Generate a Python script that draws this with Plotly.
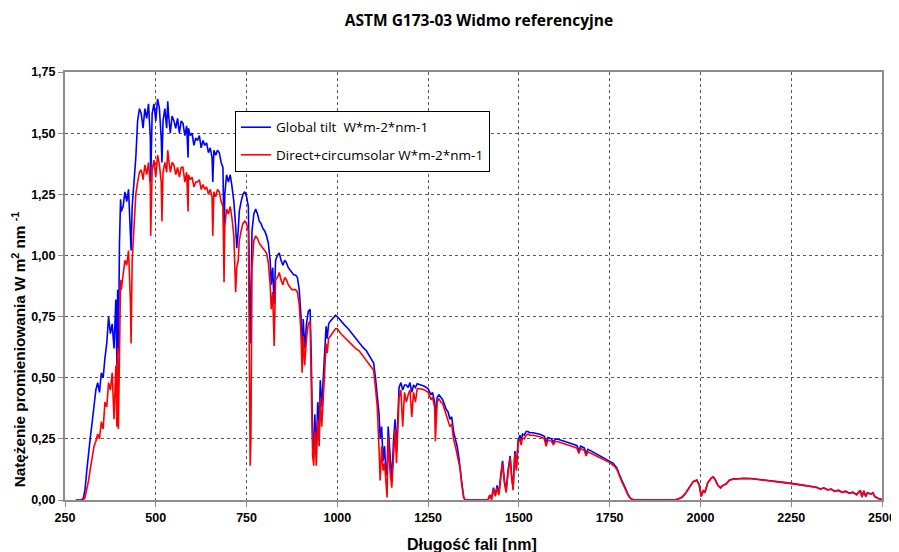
import plotly.graph_objects as go

# wavelength [nm], global tilt, direct+circumsolar
wavelength_nm = [
    280, 285, 290, 295, 300, 305, 310, 315, 320, 325, 330, 335, 340, 345, 350, 355, 360, 365, 370, 375,
    380, 385, 390, 393, 395, 397, 400, 403, 405, 410, 415, 420, 425, 430, 432, 435, 440, 445, 450, 455,
    460, 465, 470, 475, 480, 485, 486, 490, 495, 500, 505, 510, 515, 517, 520, 525, 530, 533, 535, 540,
    545, 550, 555, 560, 565, 570, 575, 580, 585, 589, 590, 595, 600, 605, 610, 615, 620, 625, 630, 635,
    640, 645, 650, 655, 657, 660, 665, 670, 675, 680, 685, 688, 690, 695, 700, 705, 710, 715, 720, 723,
    727, 730, 735, 740, 745, 750, 755, 758, 760, 762, 765, 770, 775, 780, 785, 790, 795, 800, 805, 810,
    815, 818, 822, 826, 830, 835, 840, 845, 850, 855, 860, 865, 870, 875, 880, 885, 890, 895, 900, 903,
    906, 910, 915, 920, 925, 928, 932, 935, 938, 942, 946, 950, 953, 957, 961, 965, 969, 972, 976, 980,
    985, 990, 995, 1000, 1010, 1020, 1030, 1040, 1050, 1060, 1070, 1080, 1090, 1100, 1105, 1110, 1115, 1118, 1122, 1126,
    1130, 1134, 1137, 1140, 1145, 1150, 1155, 1159, 1163, 1167, 1170, 1175, 1180, 1185, 1190, 1195, 1200, 1205, 1210, 1215,
    1220, 1230, 1240, 1250, 1258, 1262, 1268, 1270, 1275, 1280, 1285, 1290, 1295, 1300, 1305, 1310, 1315, 1320, 1325, 1330,
    1335, 1338, 1342, 1348, 1352, 1400, 1415, 1420, 1425, 1430, 1435, 1440, 1445, 1450, 1455, 1460, 1465, 1470, 1476, 1480,
    1484, 1489, 1493, 1498, 1503, 1506, 1510, 1515, 1520, 1525, 1530, 1540, 1550, 1560, 1570, 1575, 1580, 1590, 1595, 1600,
    1610, 1620, 1630, 1640, 1650, 1660, 1665, 1670, 1680, 1685, 1690, 1700, 1710, 1720, 1730, 1740, 1750, 1755, 1760, 1765,
    1770, 1775, 1780, 1785, 1790, 1795, 1800, 1805, 1810, 1820, 1900, 1930, 1940, 1950, 1960, 1970, 1980, 1990, 1997, 2002,
    2008, 2012, 2020, 2030, 2035, 2040, 2048, 2055, 2062, 2070, 2080, 2090, 2100, 2120, 2140, 2160, 2180, 2200, 2220, 2240,
    2260, 2280, 2300, 2320, 2330, 2340, 2350, 2360, 2370, 2380, 2390, 2400, 2410, 2420, 2430, 2440, 2445, 2450, 2455, 2460,
    2470, 2475, 2480, 2490, 2500,
]

global_tilt = [
    0, 0, 0, 0, 0.005, 0.04, 0.12, 0.20, 0.26, 0.32, 0.40, 0.45, 0.48, 0.44, 0.52, 0.50, 0.58, 0.64, 0.75, 0.68,
    0.72, 0.62, 0.82, 0.55, 0.86, 0.60, 1.05, 1.23, 1.18, 1.20, 1.26, 1.22, 1.27, 1.10, 1.02, 1.20, 1.30, 1.40, 1.55, 1.60,
    1.58, 1.52, 1.60, 1.56, 1.62, 1.48, 1.30, 1.58, 1.62, 1.55, 1.64, 1.60, 1.48, 1.38, 1.55, 1.60, 1.52, 1.63, 1.58, 1.50,
    1.57, 1.55, 1.52, 1.56, 1.50, 1.55, 1.54, 1.49, 1.53, 1.40, 1.52, 1.49, 1.50, 1.45, 1.48, 1.47, 1.49, 1.44, 1.47, 1.45,
    1.46, 1.42, 1.44, 1.40, 1.30, 1.43, 1.41, 1.43, 1.42, 1.38, 1.36, 1.05, 1.25, 1.33, 1.30, 1.33, 1.28, 1.22, 1.12, 1.03,
    1.10, 1.18, 1.22, 1.25, 1.26, 1.24, 1.20, 0.95, 0.64, 0.80, 1.10, 1.17, 1.19, 1.17, 1.14, 1.13, 1.11, 1.10, 1.08, 1.05,
    0.98, 0.88, 0.95, 0.80, 0.98, 1.00, 1.01, 0.98, 0.96, 0.98, 0.97, 0.95, 0.94, 0.93, 0.92, 0.92, 0.91, 0.86, 0.75, 0.58,
    0.74, 0.62, 0.72, 0.77, 0.78, 0.60, 0.25, 0.20, 0.35, 0.19, 0.40, 0.30, 0.49, 0.38, 0.50, 0.60, 0.71, 0.66, 0.72, 0.73,
    0.74, 0.75, 0.755, 0.75, 0.73, 0.715, 0.70, 0.68, 0.66, 0.645, 0.625, 0.61, 0.585, 0.56, 0.50, 0.42, 0.35, 0.25, 0.30, 0.16,
    0.22, 0.10, 0.12, 0.30, 0.18, 0.08, 0.25, 0.33, 0.20, 0.38, 0.46, 0.48, 0.45, 0.47, 0.47, 0.46, 0.48, 0.44, 0.47, 0.46,
    0.475, 0.47, 0.465, 0.455, 0.43, 0.44, 0.40, 0.33, 0.42, 0.43, 0.42, 0.41, 0.39, 0.37, 0.36, 0.33, 0.34, 0.28, 0.25, 0.22,
    0.17, 0.14, 0.08, 0.01, 0, 0, 0, 0.02, 0.01, 0.05, 0.02, 0.06, 0.03, 0.10, 0.16, 0.08, 0.04, 0.12, 0.18, 0.10,
    0.05, 0.20, 0.13, 0.245, 0.265, 0.24, 0.27, 0.265, 0.28, 0.28, 0.275, 0.275, 0.272, 0.268, 0.26, 0.235, 0.255, 0.25, 0.235, 0.25,
    0.247, 0.243, 0.237, 0.233, 0.228, 0.222, 0.20, 0.22, 0.213, 0.19, 0.207, 0.20, 0.192, 0.183, 0.175, 0.168, 0.16, 0.155, 0.15, 0.14,
    0.13, 0.11, 0.09, 0.075, 0.06, 0.04, 0.025, 0.012, 0.004, 0, 0, 0, 0.005, 0.012, 0.03, 0.05, 0.075, 0.082, 0.06, 0.015,
    0.04, 0.03, 0.07, 0.09, 0.095, 0.085, 0.06, 0.05, 0.06, 0.065, 0.082, 0.086, 0.088, 0.089, 0.088, 0.085, 0.082, 0.078, 0.075, 0.07,
    0.066, 0.062, 0.058, 0.052, 0.045, 0.05, 0.042, 0.045, 0.036, 0.04, 0.032, 0.036, 0.028, 0.032, 0.022, 0.04, 0.012, 0.038, 0.015, 0.03,
    0.025, 0.03, 0.015, 0.006, 0.002,
]

direct_circumsolar = [
    0, 0, 0, 0, 0, 0.01, 0.04, 0.08, 0.13, 0.18, 0.22, 0.24, 0.27, 0.25, 0.32, 0.29, 0.40, 0.38, 0.48, 0.45,
    0.52, 0.33, 0.55, 0.30, 0.62, 0.29, 0.72, 0.90, 0.86, 0.93, 0.98, 0.96, 1.02, 0.82, 0.64, 0.98, 1.12, 1.25, 1.30, 1.34,
    1.35, 1.31, 1.37, 1.33, 1.38, 1.28, 1.08, 1.35, 1.39, 1.32, 1.41, 1.37, 1.30, 1.14, 1.34, 1.38, 1.34, 1.43, 1.40, 1.34,
    1.38, 1.37, 1.33, 1.36, 1.32, 1.36, 1.36, 1.30, 1.34, 1.18, 1.33, 1.31, 1.32, 1.28, 1.30, 1.30, 1.31, 1.27, 1.29, 1.27,
    1.28, 1.25, 1.27, 1.24, 1.08, 1.26, 1.24, 1.27, 1.26, 1.22, 1.20, 0.89, 1.12, 1.19, 1.17, 1.20, 1.15, 1.08, 0.85, 0.95,
    0.98, 1.06, 1.10, 1.13, 1.14, 1.13, 1.10, 0.60, 0.14, 0.25, 0.95, 1.06, 1.08, 1.07, 1.05, 1.04, 1.03, 1.02, 1.01, 0.97,
    0.88, 0.78, 0.85, 0.63, 0.90, 0.91, 0.93, 0.90, 0.88, 0.91, 0.90, 0.88, 0.87, 0.86, 0.86, 0.86, 0.85, 0.80, 0.68, 0.52,
    0.67, 0.55, 0.66, 0.72, 0.73, 0.52, 0.18, 0.14, 0.28, 0.14, 0.33, 0.22, 0.42, 0.30, 0.44, 0.52, 0.64, 0.60, 0.66, 0.67,
    0.68, 0.69, 0.70, 0.70, 0.68, 0.665, 0.65, 0.635, 0.62, 0.61, 0.59, 0.575, 0.555, 0.53, 0.46, 0.38, 0.20, 0.08, 0.22, 0.12,
    0.15, 0.04, 0.01, 0.26, 0.12, 0.05, 0.20, 0.29, 0.15, 0.33, 0.42, 0.45, 0.30, 0.44, 0.40, 0.43, 0.45, 0.34, 0.44, 0.40,
    0.455, 0.455, 0.45, 0.44, 0.41, 0.42, 0.38, 0.24, 0.40, 0.415, 0.40, 0.395, 0.37, 0.35, 0.33, 0.30, 0.31, 0.25, 0.22, 0.19,
    0.15, 0.13, 0.07, 0.01, 0, 0, 0, 0.02, 0.0, 0.045, 0.015, 0.05, 0.02, 0.09, 0.15, 0.07, 0.03, 0.11, 0.17, 0.09,
    0.04, 0.19, 0.12, 0.235, 0.25, 0.225, 0.255, 0.25, 0.265, 0.27, 0.265, 0.265, 0.262, 0.258, 0.25, 0.22, 0.245, 0.24, 0.225, 0.24,
    0.237, 0.233, 0.227, 0.223, 0.218, 0.212, 0.19, 0.21, 0.203, 0.18, 0.197, 0.19, 0.183, 0.175, 0.167, 0.16, 0.153, 0.148, 0.143, 0.135,
    0.125, 0.105, 0.085, 0.07, 0.055, 0.035, 0.022, 0.01, 0.003, 0, 0, 0, 0.005, 0.012, 0.03, 0.05, 0.075, 0.081, 0.06, 0.014,
    0.04, 0.03, 0.07, 0.09, 0.094, 0.085, 0.06, 0.05, 0.06, 0.064, 0.081, 0.085, 0.087, 0.088, 0.087, 0.084, 0.08, 0.077, 0.073, 0.069,
    0.065, 0.061, 0.057, 0.051, 0.044, 0.049, 0.041, 0.044, 0.035, 0.039, 0.031, 0.035, 0.027, 0.031, 0.021, 0.039, 0.012, 0.037, 0.014, 0.029,
    0.024, 0.029, 0.014, 0.006, 0.002,
]

x_ticks = [250, 500, 750, 1000, 1250, 1500, 1750, 2000, 2250, 2500]
y_ticks = [0, 0.25, 0.5, 0.75, 1.0, 1.25, 1.5, 1.75]

chart_title = "ASTM G173-03 Widmo referencyjne"
x_title = "Długość fali [nm]"
y_title = "Natężenie promieniowania W m<sup>2</sup> nm <sup>-1</sup>"

font_axis = "Arial"

fig = go.Figure()
fig.add_trace(go.Scatter(
    x=wavelength_nm, y=global_tilt, mode="lines",
    name="Global tilt  W*m-2*nm-1", legendgroup="g",
    line=dict(color="#0000FF", width=1.6),
))
fig.add_trace(go.Scatter(
    x=wavelength_nm, y=direct_circumsolar, mode="lines",
    name="Direct+circumsolar W*m-2*nm-1", legendgroup="d",
    line=dict(color="#FF0000", width=1.6),
))

# page body has an 8px margin, so the figure is drawn slightly smaller
fig.update_layout(
    width=891, height=544,
    margin=dict(l=57, r=17, t=64, b=52),
    paper_bgcolor="white", plot_bgcolor="white",
    separators=", ",
    title=dict(
        text="<b>" + chart_title + "</b>",
        x=0.5286, xanchor="center", y=0.977, yanchor="middle",
        font=dict(family="Open Sans, sans-serif", size=15.5, color="black"),
    ),
    legend=dict(
        x=0.208, y=0.909, xanchor="left", yanchor="top",
        bgcolor="white", bordercolor="black", borderwidth=1,
        font=dict(family="Open Sans, sans-serif", size=13.5, color="black"),
        tracegroupgap=7, itemwidth=30,
    ),
    showlegend=True,
    annotations=[
        dict(text="<b>" + x_title + "</b>", xref="paper", yref="paper",
             x=0.498, y=-0.105, xanchor="center", yanchor="middle", showarrow=False,
             font=dict(family=font_axis, size=16, color="black")),
        dict(text="<b>" + y_title + "</b>", xref="paper", yref="paper",
             x=-0.0575, y=0.352, xanchor="center", yanchor="middle", showarrow=False,
             textangle=-90, font=dict(family=font_axis, size=15.3, color="black")),
    ],
)

fig.update_xaxes(
    range=[250, 2500], tickvals=x_ticks, ticktext=[str(v) for v in x_ticks],
    showgrid=True, gridcolor="#5a5a5a", griddash="dot", gridwidth=1,
    showline=True, linecolor="#8c8c8c", linewidth=2, mirror=True,
    ticks="outside", ticklen=5, tickcolor="#8c8c8c",
    tickfont=dict(family=font_axis, size=12.5, color="black", weight="bold"),
    zeroline=False, automargin=False,
)
fig.update_yaxes(
    range=[0, 1.75], tickvals=y_ticks, tickformat=".2f",
    showgrid=True, gridcolor="#5a5a5a", griddash="dot", gridwidth=1,
    showline=True, linecolor="#8c8c8c", linewidth=2, mirror=True,
    ticks="outside", ticklen=5, tickcolor="#8c8c8c",
    tickfont=dict(family=font_axis, size=12.5, color="black", weight="bold"),
    zeroline=False, automargin=False,
)

fig.write_html("out.html")
